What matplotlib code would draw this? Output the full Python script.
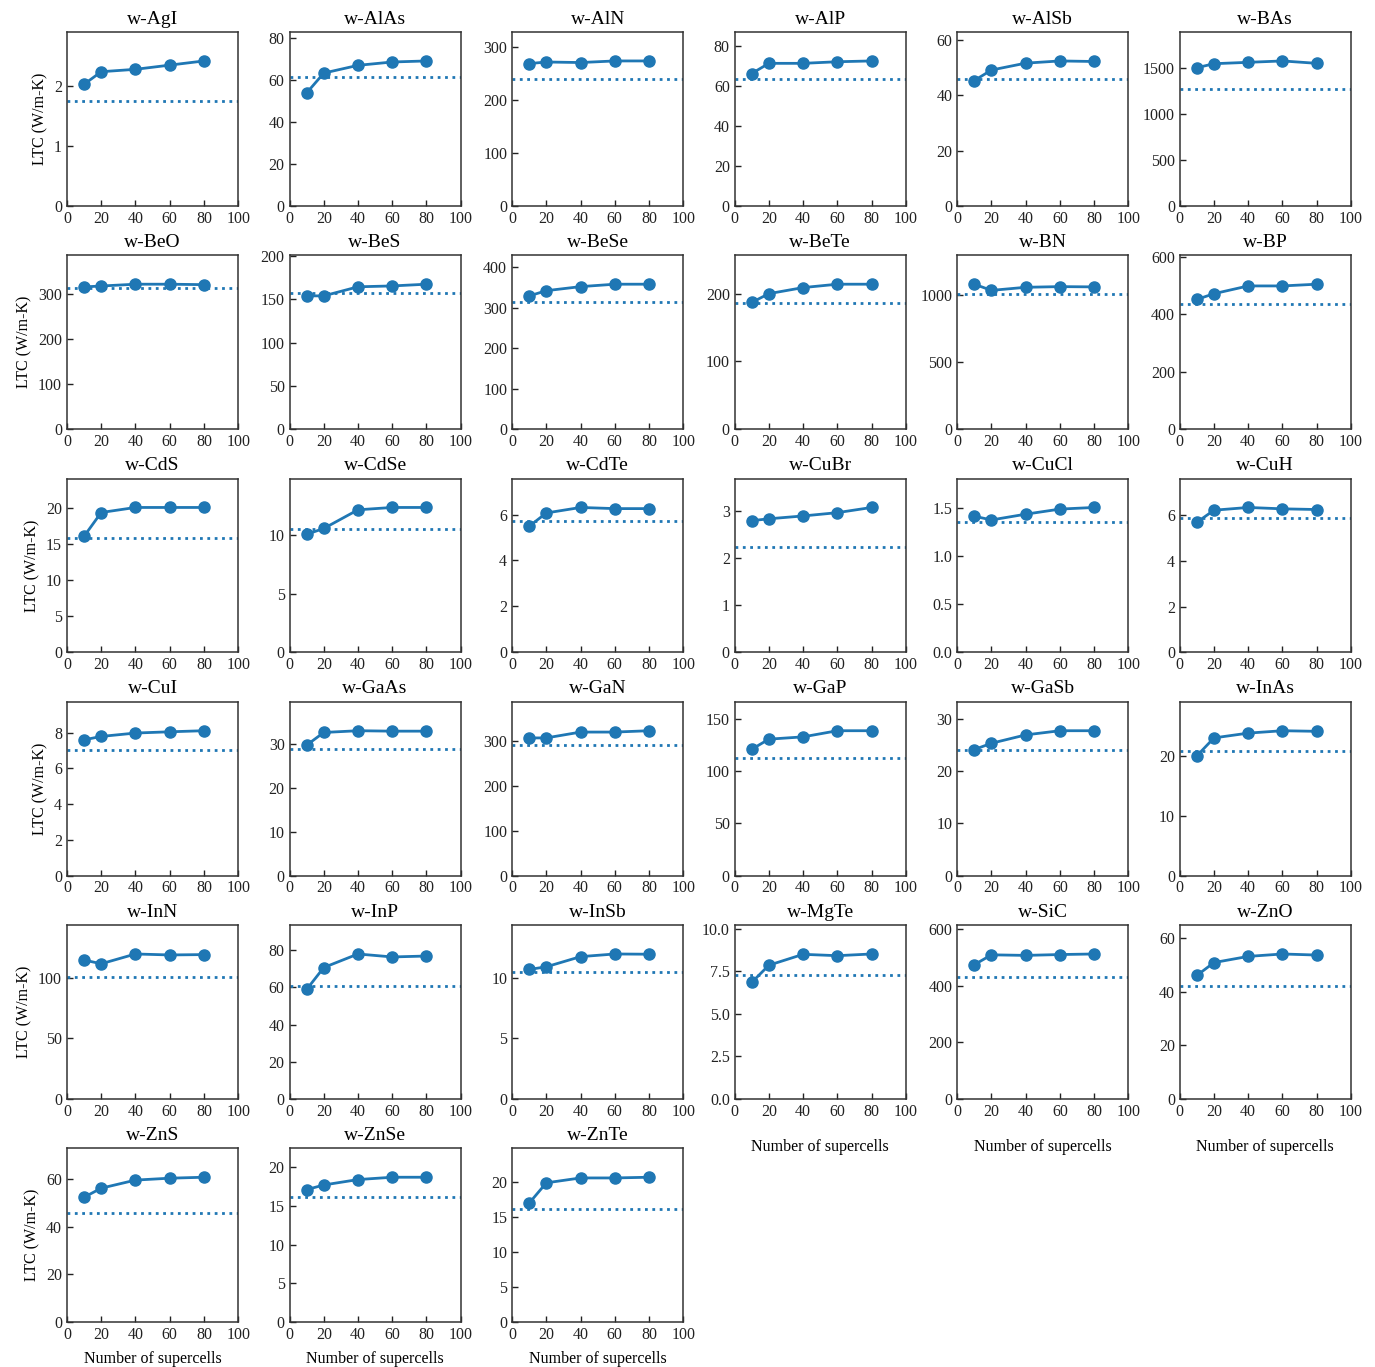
import matplotlib
matplotlib.use("Agg")
import matplotlib.pyplot as plt
from matplotlib.ticker import MaxNLocator

plt.rcParams['font.family'] = ['Liberation Serif', 'DejaVu Serif']
plt.rcParams['xtick.direction'] = 'in'
plt.rcParams['ytick.direction'] = 'in'

# number of supercells on the x axis
supercells = [10, 20, 40, 60, 80]

materials = ['w-AgI', 'w-AlAs', 'w-AlN', 'w-AlP', 'w-AlSb', 'w-BAs',
             'w-BeO', 'w-BeS', 'w-BeSe', 'w-BeTe', 'w-BN', 'w-BP',
             'w-CdS', 'w-CdSe', 'w-CdTe', 'w-CuBr', 'w-CuCl', 'w-CuH',
             'w-CuI', 'w-GaAs', 'w-GaN', 'w-GaP', 'w-GaSb', 'w-InAs',
             'w-InN', 'w-InP', 'w-InSb', 'w-MgTe', 'w-SiC', 'w-ZnO',
             'w-ZnS', 'w-ZnSe', 'w-ZnTe']

# LTC (W/m-K) for each material at each supercell count
ltc = [
    [2.03, 2.24, 2.28, 2.35, 2.42],
    [53.9, 63.4, 67.1, 68.7, 69.2],
    [268, 271, 270, 273, 273],
    [66.3, 71.4, 71.4, 72.2, 72.6],
    [45.4, 49.2, 51.7, 52.5, 52.3],
    [1503, 1547, 1562, 1577, 1551],
    [316, 318, 322, 322, 321],
    [154, 154, 164.5, 165.5, 167.5],
    [329, 342, 352, 358, 358],
    [187.5, 200.5, 209.5, 214.5, 214.5],
    [1078, 1032, 1055, 1060, 1058],
    [451, 471, 498, 498, 504],
    [16.1, 19.4, 20.1, 20.1, 20.1],
    [10.1, 10.6, 12.2, 12.4, 12.4],
    [5.49, 6.07, 6.31, 6.26, 6.26],
    [2.79, 2.83, 2.89, 2.96, 3.07],
    [1.416, 1.377, 1.437, 1.49, 1.507],
    [5.69, 6.22, 6.34, 6.28, 6.25],
    [7.6, 7.79, 7.98, 8.05, 8.11],
    [29.8, 32.7, 33.1, 33.0, 33.0],
    [306, 306, 319, 319, 322],
    [121.2, 130.9, 133.1, 139, 139],
    [24.1, 25.3, 26.9, 27.7, 27.7],
    [20.0, 23.0, 23.8, 24.2, 24.1],
    [114.8, 111.7, 119.8, 119, 119.3],
    [58.9, 70.7, 78, 76.4, 76.9],
    [10.7, 10.92, 11.76, 11.98, 11.96],
    [6.84, 7.85, 8.49, 8.41, 8.51],
    [475, 510, 508, 511, 513],
    [46.0, 50.8, 53.1, 54.0, 53.6],
    [52.4, 56.2, 59.6, 60.4, 60.8],
    [17.1, 17.7, 18.4, 18.7, 18.7],
    [17.0, 19.9, 20.6, 20.6, 20.7],
]

# reference LTC values (dotted lines)
ltc_ref = [1.75, 61.7, 239, 63.5, 46.0, 1275,
           314, 157, 315, 186.5, 1008, 436,
           15.8, 10.52, 5.72, 2.24, 1.353, 5.87,
           7.03, 29.0, 289.5, 112.4, 24.06, 20.8,
           100.8, 60.9, 10.47, 7.26, 431, 42.2,
           45.6, 16.2, 16.1]

color = '#1f77b4'
ncols = 6
nrows = 6
steps = [1, 2, 2.5, 5, 10]

fig, axes = plt.subplots(nrows, ncols, figsize=(13.75, 13.67), dpi=100)
fig.subplots_adjust(left=0.0487, right=0.9825, bottom=0.0329, top=0.9766,
                    wspace=0.30, hspace=0.285)
axes = axes.flatten()

n = len(materials)
for i, ax in enumerate(axes):
    if i >= n:
        ax.remove()
        continue
    vals = ltc[i]
    ax.plot(supercells, vals, '-o', color=color, lw=2, ms=8)
    ax.axhline(ltc_ref[i], color=color, ls=':', lw=2)
    ax.set_xlim(0, 100)
    ax.set_ylim(0, 1.2 * max(vals))
    ax.xaxis.set_major_locator(MaxNLocator(nbins=5, steps=steps))
    ax.yaxis.set_major_locator(MaxNLocator(nbins=5, steps=steps))
    ax.set_title(materials[i], fontsize=14)
    ax.tick_params(labelsize=11.5, length=4, width=1, colors='#222222')
    for sp in ax.spines.values():
        sp.set_color('#333333')
        sp.set_linewidth(1.1)
    if i % ncols == 0:
        ax.set_ylabel('LTC (W/m-K)', fontsize=11.5)
    # bottom plot of each column gets the x label
    if i + ncols >= n:
        pad = 6 if i >= 30 else 14
        ax.set_xlabel('Number of supercells', fontsize=11.5, labelpad=pad)

fig.savefig('out.png', dpi=100)
